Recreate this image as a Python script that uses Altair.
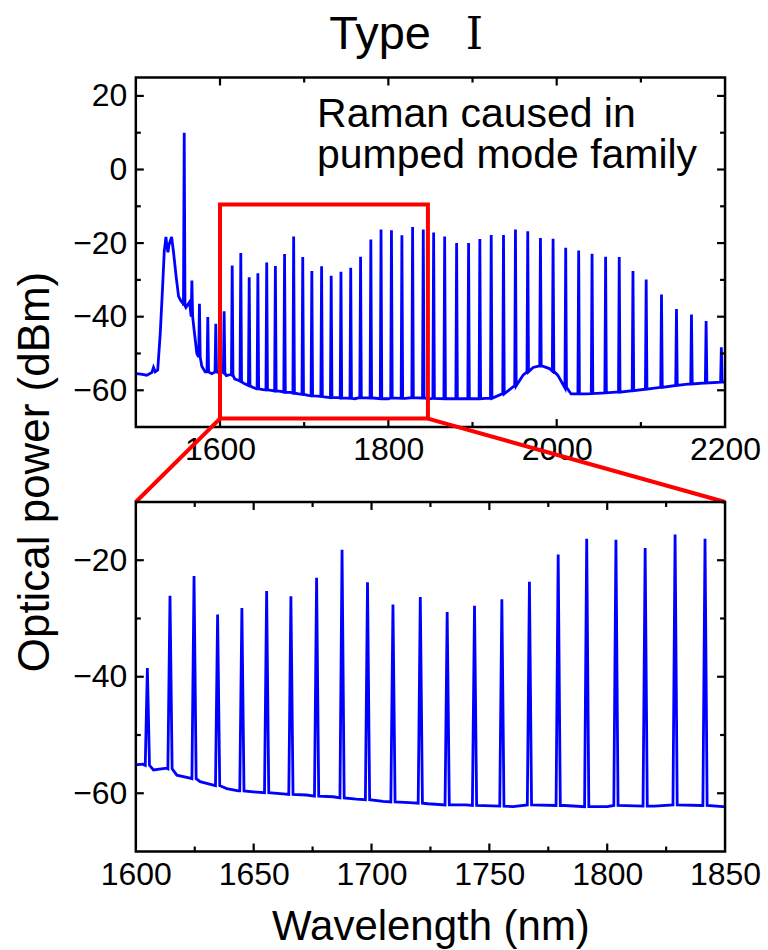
import altair as alt
import pandas as pd

# ---------------- data ----------------
# comb lines: centre wavelength (nm), peak power (dBm), floor under the line (dBm)
pk_x = [1557.5, 1566.6, 1575.6, 1585.5, 1595.0, 1604.9, 1614.5, 1624.7, 1634.7, 1645.0,
        1655.5, 1665.8, 1676.7, 1687.5, 1698.3, 1709.1, 1720.7, 1732.1, 1743.7, 1755.3,
        1767.0, 1779.2, 1791.3, 1803.7, 1816.1, 1828.8, 1841.5, 1853.8, 1866.9, 1881.1,
        1895.3, 1908.7, 1922.2, 1936.8, 1951.0, 1965.6, 1980.7, 1995.7, 2010.7, 2026.1,
        2042.0, 2058.1, 2074.3, 2090.6, 2106.3, 2124.5, 2142.3, 2160.1, 2177.5, 2195.6]
pk_y = [10.0, -30.2, -36.5, -40.1, -41.9, -38.5, -26.1, -22.7, -29.3, -28.2,
        -25.3, -26.2, -23.0, -18.2, -23.8, -27.6, -26.3, -28.9, -27.8, -26.7,
        -23.7, -19.0, -16.3, -16.5, -17.9, -15.6, -16.3, -17.1, -18.2, -20.0,
        -20.0, -18.9, -17.8, -17.8, -16.3, -16.8, -18.6, -18.8, -21.3, -22.0,
        -22.9, -23.7, -23.8, -27.6, -29.9, -34.0, -37.9, -39.4, -41.2, -48.3]
pk_base = [-37.0, -40.0, -51.0, -55.0, -55.0, -55.2, -55.8, -57.5, -58.7, -59.6,
           -59.9, -60.2, -60.5, -60.8, -61.1, -61.5, -61.7, -62.0, -62.1, -62.2,
           -62.0, -62.1, -62.3, -62.1, -62.2, -62.0, -62.1, -62.2, -62.3, -62.3,
           -62.3, -62.3, -62.2, -61.0, -58.8, -55.0, -53.4, -54.8, -59.4, -61.0,
           -60.9, -60.7, -60.5, -60.1, -59.7, -59.2, -58.7, -58.3, -58.0, -57.8]

# noise floor / broadband features between the lines
bl_x = [1500, 1506, 1513, 1519, 1521, 1523, 1526, 1529, 1531.4, 1533.8,
        1535.8, 1537, 1538.2, 1539.4, 1542.5, 1544.8, 1548, 1550.8, 1553.6, 1556.5,
        1559.5, 1563.8, 1569.3, 1572.5, 1578.4, 1582.4, 1590.3, 1598, 1603, 1607.5,
        1613.1, 1617.4, 1623.0, 1627.3, 1632.9, 1638.6, 1643.5, 1651.2, 1662.5, 1672.4,
        1683.7, 1693.6, 1704.9, 1716.2, 1724.0, 1740, 1760, 1782, 1800, 1820,
        1840, 1849, 1880, 1916, 1935, 1948, 1960, 1972, 1982.5, 1991.4,
        2001.2, 2012.5, 2017.1, 2035, 2070, 2114, 2153, 2200]
bl_y = [-55.5, -55.6, -55.9, -55.2, -53.8, -55.0, -54.5, -44.6, -33.8, -22.2,
        -18.3, -21.0, -22.5, -20.5, -18.3, -22.5, -29.3, -34.5, -35.7, -36.5,
        -37.5, -36.0, -43.7, -50.0, -53.5, -55.0, -55.5, -55.2, -55.0, -56.0,
        -55.7, -56.9, -57.4, -58.0, -58.6, -59.2, -59.6, -59.8, -60.1, -60.3,
        -60.6, -61.0, -61.4, -61.6, -61.8, -62.0, -62.3, -62.1, -62.3, -62.2,
        -62.1, -62.3, -62.3, -62.2, -61.0, -59.1, -55.9, -53.8, -53.4, -54.1,
        -55.9, -59.5, -61.0, -61.0, -60.5, -59.5, -58.4, -57.8]

top_x_domain = [1500, 2200]
top_y_domain = [-70, 25]
bot_x_domain = [1600, 1850]
bot_y_domain = [-70, -10]
zoom_x = [1600, 1847]
zoom_y = [-9.5, -67.7]

title_word = "Type"
title_numeral = "\u2160"
note_lines = ["Raman caused in", "pumped mode family"]
y_title = "Optical power (dBm)"
x_title = "Wavelength (nm)"

top_x_labels = [1600, 1800, 2000, 2200]
top_x_major = [1600, 1800, 2000]
top_x_minor = [1700, 1900, 2100]
top_y_labels = [20, 0, -20, -40, -60]
top_y_minor = [10, -10, -30, -50]
bot_x_labels = [1600, 1650, 1700, 1750, 1800, 1850]
bot_x_major = [1650, 1700, 1750, 1800]
bot_x_minor = [1625, 1675, 1725, 1775, 1825]
bot_y_labels = [-20, -40, -60]
bot_y_minor = [-30, -50]

# ---------------- build the spectrum table ----------------
HALF = 0.9
rows = [{"wl": x, "p": y} for x, y in zip(bl_x, bl_y)]
for c, t, b in zip(pk_x, pk_y, pk_base):
    rows += [{"wl": c - HALF, "p": b}, {"wl": c, "p": t}, {"wl": c + HALF, "p": b}]
spec = pd.DataFrame(rows).sort_values("wl").reset_index(drop=True)

FONT = "Liberation Sans"
BLUE = "#0000ff"
RED = "#ff0000"
W, H, SP = 590, 350, 75          # panel width, panel height, gap between panels
TOTAL = H + SP + H
X0, Y0 = 135.5, 77               # page position of the plot origin
MAJOR, MINOR = 8, 5              # tick lengths in pixels

xs_top = alt.Scale(domain=top_x_domain, range=[0, W], nice=False, zero=False)
ys_top = alt.Scale(domain=top_y_domain, range=[H, 0], nice=False, zero=False)
xs_bot = alt.Scale(domain=bot_x_domain, range=[0, W], nice=False, zero=False)
ys_bot = alt.Scale(domain=bot_y_domain, range=[TOTAL, H + SP], nice=False, zero=False)

one = pd.DataFrame({"k": [0]})


def spectrum(xs, ys):
    return alt.Chart(spec).mark_line(color=BLUE, strokeWidth=2.8, clip=True,
                                     strokeJoin="miter").encode(
        x=alt.X("wl:Q", scale=xs, axis=None),
        y=alt.Y("p:Q", scale=ys, axis=None),
        order=alt.Order("wl:Q"),
    )


def frame(xs, ys, xd, yd):
    df = pd.DataFrame({"x": [xd[0]], "x2": [xd[1]], "y": [yd[0]], "y2": [yd[1]]})
    return alt.Chart(df).mark_rect(filled=False, stroke="black", strokeWidth=2.5).encode(
        x=alt.X("x:Q", scale=xs, axis=None), x2="x2",
        y=alt.Y("y:Q", scale=ys, axis=None), y2="y2")


def xaxis(xs, at, **kw):
    return alt.Chart(pd.DataFrame({"v": [at]})).mark_point(opacity=0).encode(
        x=alt.X("v:Q", scale=xs, axis=alt.Axis(grid=False, domain=False, **kw)))


def yaxis(ys, at, **kw):
    return alt.Chart(pd.DataFrame({"v": [at]})).mark_point(opacity=0).encode(
        y=alt.Y("v:Q", scale=ys, axis=alt.Axis(grid=False, domain=False, **kw)))


def inward_ticks(xs, ys, xd, yd, height, xmaj, xmin, ymaj, ymin):
    """Inward-pointing mirror ticks on all four sides, built through the panel scales."""
    dx = (xd[1] - xd[0]) / W          # data units per pixel
    dy = (yd[1] - yd[0]) / height
    recs = []
    for vals, size in [(xmaj, MAJOR), (xmin, MINOR)]:
        for v in vals:
            recs.append({"x": v, "x2": v, "y": yd[0], "y2": yd[0] + size * dy})
            recs.append({"x": v, "x2": v, "y": yd[1], "y2": yd[1] - size * dy})
    for vals, size in [(ymaj, MAJOR), (ymin, MINOR)]:
        for v in vals:
            recs.append({"x": xd[0], "x2": xd[0] + size * dx, "y": v, "y2": v})
            recs.append({"x": xd[1], "x2": xd[1] - size * dx, "y": v, "y2": v})
    return alt.Chart(pd.DataFrame(recs)).mark_rule(color="black", strokeWidth=2.2).encode(
        x=alt.X("x:Q", scale=xs, axis=None), x2="x2:Q",
        y=alt.Y("y:Q", scale=ys, axis=None), y2="y2:Q")


lab = dict(labelFont=FONT, labelFontSize=32, labelColor="black", ticks=False,
           labelFlush=False, labelOverlap=False, format="d")

layers = [
    # ---- top panel ----
    spectrum(xs_top, ys_top),
    inward_ticks(xs_top, ys_top, top_x_domain, top_y_domain, H,
                 top_x_major, top_x_minor, top_y_labels, top_y_minor),
    frame(xs_top, ys_top, top_x_domain, top_y_domain),
    alt.Chart(pd.DataFrame({"x": [zoom_x[0]], "x2": [zoom_x[1]], "y": [zoom_y[0]], "y2": [zoom_y[1]]}))
    .mark_rect(filled=False, stroke=RED, strokeWidth=4)
    .encode(x=alt.X("x:Q", scale=xs_top, axis=None), x2="x2",
            y=alt.Y("y:Q", scale=ys_top, axis=None), y2="y2"),
    alt.Chart(pd.DataFrame({"x": [zoom_x[0]], "y": [zoom_y[1]]}))
    .mark_rule(color=RED, strokeWidth=4)
    .encode(x=alt.X("x:Q", scale=xs_top, axis=None), y=alt.Y("y:Q", scale=ys_top, axis=None),
            x2=alt.value(0), y2=alt.value(H + SP)),
    alt.Chart(pd.DataFrame({"x": [zoom_x[1]], "y": [zoom_y[1]]}))
    .mark_rule(color=RED, strokeWidth=4)
    .encode(x=alt.X("x:Q", scale=xs_top, axis=None), y=alt.Y("y:Q", scale=ys_top, axis=None),
            x2=alt.value(W), y2=alt.value(H + SP)),
    xaxis(xs_top, 1800, orient="bottom", values=top_x_labels, offset=-(SP + H),
          labelPadding=7, title=None, **lab),
    yaxis(ys_top, 0, orient="left", values=top_y_labels, labelPadding=9, title=None, **lab),
    # ---- bottom panel ----
    spectrum(xs_bot, ys_bot),
    inward_ticks(xs_bot, ys_bot, bot_x_domain, bot_y_domain, H,
                 bot_x_major, bot_x_minor, bot_y_labels, bot_y_minor),
    frame(xs_bot, ys_bot, bot_x_domain, bot_y_domain),
    xaxis(xs_bot, 1700, orient="bottom", values=bot_x_labels, labelPadding=8, title=x_title,
          titleFont=FONT, titleFontSize=42, titleFontWeight="normal", titleColor="black",
          titlePadding=16, **lab),
    yaxis(ys_bot, -40, orient="left", values=bot_y_labels, labelPadding=9, title=None, **lab),
    # ---- texts ----
    alt.Chart(one).mark_text(text=title_word, font=FONT, fontSize=47, align="center",
                             baseline="alphabetic", color="black")
    .encode(x=alt.value(380 - X0), y=alt.value(48.5 - Y0)),
    alt.Chart(one).mark_text(text=title_numeral, font="DejaVu Serif", fontSize=44,
                             align="center", baseline="alphabetic", color="black")
    .encode(x=alt.value(474.5 - X0), y=alt.value(48.5 - Y0)),
    alt.Chart(one).mark_text(text=note_lines, font=FONT, fontSize=41, align="left",
                             baseline="alphabetic", lineHeight=40.5, color="black")
    .encode(x=alt.value(317 - X0), y=alt.value(127 - Y0)),
    alt.Chart(one).mark_text(text=y_title, font=FONT, fontSize=44, angle=270, align="center",
                             baseline="middle", color="black")
    .encode(x=alt.value(36 - X0), y=alt.value(472 - Y0)),
    # invisible frame fixing the page extent
    alt.Chart(one).mark_rule(opacity=0, strokeWidth=0)
    .encode(x=alt.value(-X0), x2=alt.value(768 - X0), y=alt.value(-Y0), y2=alt.value(950 - Y0)),
]

chart = (
    alt.layer(*layers)
    .resolve_scale(x="independent", y="independent")
    .resolve_axis(x="independent", y="independent")
    .properties(width=W, height=TOTAL, padding=0, background="white")
    .configure_view(stroke=None)
)

chart.save("out.html", embed_options={"renderer": "svg", "actions": False})
